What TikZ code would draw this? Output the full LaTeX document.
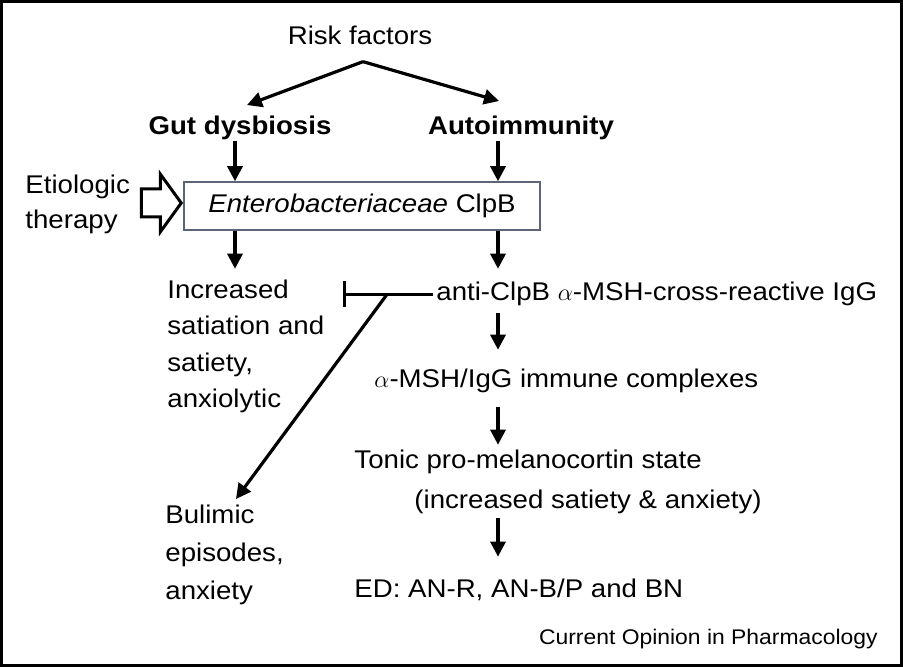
\documentclass[tikz,border=0pt]{standalone}
\usepackage{fontspec}
\setmainfont{Liberation Sans}[FakeStretch=1.08]
\usetikzlibrary{arrows.meta,positioning}
\definecolor{boxgray}{HTML}{5A6578}

\begin{document}
\begin{tikzpicture}[x=0.5pt, y=-0.5pt, font=\fontsize{12.8}{18.2}\selectfont,
  lbl/.style={inner sep=0pt, align=left},
  cbox/.style={draw=boxgray, line width=0.75pt, minimum width=178pt, minimum height=24pt, inner sep=0pt},
  arr/.style={-{Triangle[length=7.5pt, width=7.5pt]}, line width=1.6pt},
  inh/.style={-{Bar[width=13pt]}, line width=1.6pt}]
\useasboundingbox (0,0) rectangle (903,667);
\draw[line width=1.5pt] (1.5,1.5) rectangle (901.5,665.5);
\coordinate (lcol) at (235,0); \coordinate (rcol) at (498,0);
\node[lbl, anchor=base] (risk) at (360,45) {Risk factors};
\node[lbl, anchor=base, font=\fontsize{12.8}{18.2}\selectfont\bfseries] (gut) at (240,135) {Gut dysbiosis};
\node[lbl, anchor=base, font=\fontsize{12.8}{18.2}\selectfont\bfseries] (auto) at (521,135) {Autoimmunity};
\node[cbox] (box) at (362,206) {\textit{Enterobacteriaceae} ClpB};
\node[lbl, anchor=north west, font=\fontsize{12.8}{17.5}\selectfont] (etio) at (25,175) {Etiologic\\therapy};
\node[lbl, anchor=north west] (incr) at (167,279.5) {Increased\\satiation and\\satiety,\\anxiolytic};
\node[lbl, anchor=base west] (anti) at (436,301) {anti-ClpB $\alpha$-MSH-cross-reactive IgG};
\node[lbl, anchor=base west] (immune) at (374,387) {$\alpha$-MSH/IgG immune complexes};
\node[lbl, anchor=north west] (tonic) at (354,450) {Tonic pro-melanocortin state\\[1.8pt]\hspace*{30pt}(increased satiety \& anxiety)};
\node[lbl, anchor=base west] (ed) at (354,597) {ED: AN-R, AN-B/P and BN};
\node[lbl, anchor=north west, font=\fontsize{12.8}{18.8}\selectfont] (bulimic) at (165,505) {Bulimic\\episodes,\\anxiety};
\node[lbl, anchor=base east, font=\fontsize{10.6}{12}\selectfont] (source) at (878,644) {Current Opinion in Pharmacology};
% fork from risk factors
\coordinate (fork) at ([xshift=1.5pt, yshift=-8pt]risk.south);
\draw[arr] (fork) -- ([xshift=3.5pt, yshift=5.5pt]gut.north);
\draw[arr] (fork) -- ([xshift=-11pt, yshift=7.5pt]auto.north);
\draw[arr] (gut.south -| lcol) -- (box.north -| lcol);
\draw[arr] (auto.south -| rcol) -- (box.north -| rcol);
% therapy arrow
\draw[line width=1.5pt, miter limit=4] ([xshift=-1pt, yshift=1.5pt]box.west) -- ++(-21,-29) -- ++(0,15) -- ++(-19,0) -- ++(0,28) -- ++(19,0) -- ++(0,15) -- cycle;
\draw[arr] (box.south -| lcol) -- ++(0,38);
\draw[arr] (box.south -| rcol) -- ++(0,38);
\draw[arr] (anti.south -| rcol) ++(0,6) -- ++(0,37);
\draw[arr] (immune.south -| rcol) ++(0,14) -- ++(0,38);
\draw[arr] (tonic.south -| rcol) ++(0,3) -- ++(0,39);
% inhibition and bulimic branch
\coordinate (split) at ([xshift=-24.5pt]anti.west);
\draw[inh] (anti.west) ++(-3,0) -- ++(-90,0);
\draw[arr] (split) -- ([xshift=35.5pt, yshift=3pt]bulimic.north west);
\end{tikzpicture}
\end{document}
